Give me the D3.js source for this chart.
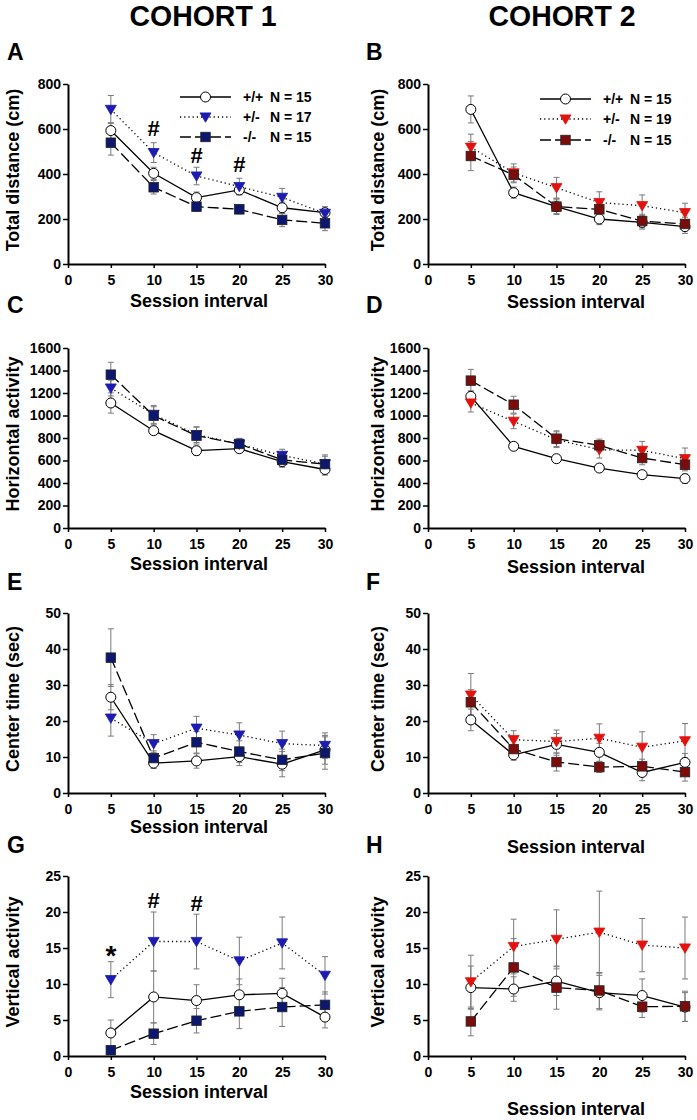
<!DOCTYPE html>
<html>
<head>
<meta charset="utf-8">
<script src="https://cdn.jsdelivr.net/npm/d3@7"></script>
<style>
  body { margin: 0; background: #fff; }
  text { font-family: "Liberation Sans", Arial, sans-serif; font-weight: bold; fill: #000; }
</style>
</head>
<body>
<div id="chart"></div>
<script>
// session bins (minutes) and x ticks
const sessions = [5, 10, 15, 20, 25, 30];
const xTicks = [0, 5, 10, 15, 20, 25, 30];

// legend
const genotypes = ["+/+", "+/-", "-/-"];
const nCohort1 = [15, 17, 15];
const nCohort2 = [15, 19, 15];

// Total distance (cm)
const distC1Wt = [593, 403, 295, 329, 250, 228];
const distC1WtErr = [35, 27, 25, 20, 25, 20];
const distC1Het = [687, 495, 391, 344, 296, 225];
const distC1HetErr = [62, 44, 39, 37, 40, 30];
const distC1Ko = [539, 341, 255, 243, 196, 181];
const distC1KoErr = [55, 30, 20, 20, 30, 33];
const distC2Wt = [687, 317, 255, 200, 185, 166];
const distC2WtErr = [60, 25, 35, 25, 30, 30];
const distC2Het = [519, 405, 339, 273, 259, 228];
const distC2HetErr = [58, 40, 46, 48, 48, 42];
const distC2Ko = [480, 396, 255, 243, 191, 178];
const distC2KoErr = [65, 35, 30, 30, 30, 30];

// Horizontal activity
const horzC1Wt = [1111, 865, 687, 705, 590, 520];
const horzC1WtErr = [90, 30, 40, 30, 50, 50];
const horzC1Het = [1244, 1010, 830, 745, 645, 570];
const horzC1HetErr = [70, 80, 70, 50, 55, 80];
const horzC1Ko = [1363, 998, 821, 747, 605, 568];
const horzC1KoErr = [110, 80, 75, 50, 55, 70];
const horzC2Wt = [1170, 726, 616, 533, 474, 439];
const horzC2WtErr = [50, 20, 20, 20, 25, 40];
const horzC2Het = [1111, 948, 785, 696, 690, 616];
const horzC2HetErr = [80, 65, 70, 74, 80, 95];
const horzC2Ko = [1310, 1096, 794, 735, 622, 563];
const horzC2KoErr = [100, 75, 70, 55, 60, 55];

// Center time (sec)
const centC1Wt = [26.6, 8.3, 8.9, 10.1, 8.0, 12.0];
const centC1WtErr = [3.5, 1.5, 2.0, 2.5, 3.5, 4.0];
const centC1Het = [20.8, 13.7, 18.0, 16.1, 13.7, 13.2];
const centC1HetErr = [5.0, 2.5, 3.3, 3.4, 3.5, 3.5];
const centC1Ko = [37.6, 9.7, 14.1, 11.5, 9.2, 11.1];
const centC1KoErr = [8.0, 2.0, 3.0, 3.0, 3.0, 4.5];
const centC2Wt = [20.3, 10.6, 13.5, 11.3, 5.7, 8.5];
const centC2WtErr = [3.0, 1.5, 3.0, 2.5, 2.3, 2.5];
const centC2Het = [27.2, 14.8, 14.3, 15.2, 12.7, 14.5];
const centC2HetErr = [6.0, 2.5, 3.2, 4.0, 4.3, 4.8];
const centC2Ko = [25.2, 12.2, 8.6, 7.2, 7.4, 5.8];
const centC2KoErr = [3.5, 2.5, 2.5, 1.5, 2.0, 2.5];

// Vertical activity
const vertC1Wt = [3.2, 8.2, 7.7, 8.5, 8.7, 5.4];
const vertC1WtErr = [1.8, 3.6, 2.2, 2.2, 2.1, 1.5];
const vertC1Het = [10.6, 15.9, 15.9, 13.2, 15.7, 11.2];
const vertC1HetErr = [2.5, 4.1, 3.8, 3.3, 3.6, 2.6];
const vertC1Ko = [0.8, 3.1, 4.9, 6.2, 6.8, 7.1];
const vertC1KoErr = [0.5, 1.5, 1.7, 2.4, 2.7, 1.8];
const vertC2Wt = [9.5, 9.3, 10.4, 8.8, 8.4, 6.8];
const vertC2WtErr = [3.0, 1.7, 2.0, 2.4, 2.3, 2.0];
const vertC2Het = [10.3, 15.2, 16.2, 17.2, 15.4, 15.0];
const vertC2HetErr = [3.7, 3.8, 4.1, 5.7, 3.7, 4.3];
const vertC2Ko = [4.8, 12.3, 9.5, 9.1, 6.85, 6.9];
const vertC2KoErr = [2.0, 4.0, 3.0, 2.5, 1.5, 2.1];

// significance marks: [session, y value, symbol]
const marksA = [[10, 603, "#"], [15, 484, "#"], [20, 444, "#"]];
const marksG = [[5, 15.0, "*"], [10, 21.6, "#"], [15, 21.3, "#"]];

const W = 697, H = 1120;
const svg = d3.select("#chart").append("svg")
    .attr("width", W).attr("height", H);

const colors = {
    c1: {het: "#1c1cb0", ko: "#0c1870"},
    c2: {het: "#e2120e", ko: "#7c0c0c"}
};

const cols = [
    {x0: 68, x1: 325, titleX: 13, labelX: 199},
    {x0: 428, x1: 685, titleX: 378, labelX: 576}
];
const rows = [
    {top: 84, bottom: 264},
    {top: 348, bottom: 528},
    {top: 613, bottom: 793},
    {top: 876, bottom: 1056}
];

const panels = [
    {letter: "A", col: 0, row: 0, max: 800, step: 200, ytitle: "Total distance (cm)", c: "c1",
     wt: distC1Wt, wtE: distC1WtErr, het: distC1Het, hetE: distC1HetErr, ko: distC1Ko, koE: distC1KoErr,
     legend: nCohort1, marks: marksA, xlab: 43},
    {letter: "B", col: 1, row: 0, max: 800, step: 200, ytitle: "Total distance (cm)", c: "c2",
     wt: distC2Wt, wtE: distC2WtErr, het: distC2Het, hetE: distC2HetErr, ko: distC2Ko, koE: distC2KoErr,
     legend: nCohort2, xlab: 44},
    {letter: "C", col: 0, row: 1, max: 1600, step: 200, ytitle: "Horizontal activity", c: "c1",
     wt: horzC1Wt, wtE: horzC1WtErr, het: horzC1Het, hetE: horzC1HetErr, ko: horzC1Ko, koE: horzC1KoErr, xlab: 42},
    {letter: "D", col: 1, row: 1, max: 1600, step: 200, ytitle: "Horizontal activity", c: "c2",
     wt: horzC2Wt, wtE: horzC2WtErr, het: horzC2Het, hetE: horzC2HetErr, ko: horzC2Ko, koE: horzC2KoErr, xlab: 45},
    {letter: "E", col: 0, row: 2, max: 50, step: 10, ytitle: "Center time (sec)", c: "c1",
     wt: centC1Wt, wtE: centC1WtErr, het: centC1Het, hetE: centC1HetErr, ko: centC1Ko, koE: centC1KoErr, xlab: 40},
    {letter: "F", col: 1, row: 2, max: 50, step: 10, ytitle: "Center time (sec)", c: "c2",
     wt: centC2Wt, wtE: centC2WtErr, het: centC2Het, hetE: centC2HetErr, ko: centC2Ko, koE: centC2KoErr, xlab: 60},
    {letter: "G", col: 0, row: 3, max: 25, step: 5, ytitle: "Vertical activity", c: "c1",
     wt: vertC1Wt, wtE: vertC1WtErr, het: vertC1Het, hetE: vertC1HetErr, ko: vertC1Ko, koE: vertC1KoErr,
     marks: marksG, xlab: 42},
    {letter: "H", col: 1, row: 3, max: 25, step: 5, ytitle: "Vertical activity", c: "c2",
     wt: vertC2Wt, wtE: vertC2WtErr, het: vertC2Het, hetE: vertC2HetErr, ko: vertC2Ko, koE: vertC2KoErr, xlab: 59}
];

// cohort titles
svg.append("text").attr("x", 203).attr("y", 26).attr("text-anchor", "middle")
    .style("font-family", "'Liberation Sans Narrow', 'Arial Narrow', 'Liberation Sans', sans-serif")
    .style("font-size", "29px").attr("textLength", 147).attr("lengthAdjust", "spacingAndGlyphs")
    .text("COHORT 1");
svg.append("text").attr("x", 562).attr("y", 26).attr("text-anchor", "middle")
    .style("font-family", "'Liberation Sans Narrow', 'Arial Narrow', 'Liberation Sans', sans-serif")
    .style("font-size", "29px").attr("textLength", 147).attr("lengthAdjust", "spacingAndGlyphs")
    .text("COHORT 2");

const lineStyles = {wt: null, het: "1.2,3", ko: "11,4"};

function drawMarker(g, kind, cx, cy, color, size) {
    if (kind === "wt") {
        g.append("circle").attr("cx", cx).attr("cy", cy).attr("r", size)
            .attr("fill", "#fff").attr("stroke", "#000").attr("stroke-width", 1);
    } else if (kind === "het") {
        const s = size * 1.1;
        g.append("path")
            .attr("d", `M${cx - s},${cy - s * 0.75}L${cx + s},${cy - s * 0.75}L${cx},${cy + s * 0.95}Z`)
            .attr("fill", color).attr("stroke", color).attr("stroke-width", 0.8);
    } else {
        const s = size * 0.95;
        g.append("rect").attr("x", cx - s).attr("y", cy - s).attr("width", 2 * s).attr("height", 2 * s)
            .attr("fill", color).attr("stroke", "#222").attr("stroke-width", 0.8);
    }
}

function drawPanel(p) {
    const col = cols[p.col], row = rows[p.row];
    const x = d3.scaleLinear().domain([0, 30]).range([col.x0, col.x1]);
    const y = d3.scaleLinear().domain([0, p.max]).range([row.bottom, row.top]);
    const g = svg.append("g");

    // panel letter
    const letterY = [60, 313, 590, 853][p.row];
    g.append("text").attr("x", p.col === 0 ? 7 : 366).attr("y", letterY)
        .style("font-size", "23px").text(p.letter);

    // axes
    const yAxis = g.append("g").attr("transform", `translate(${col.x0},0)`)
        .call(d3.axisLeft(y).tickValues(d3.range(0, p.max + 1, p.step)).tickFormat(d3.format("d"))
            .tickSize(5).tickSizeOuter(0).tickPadding(2));
    const xAxis = g.append("g").attr("transform", `translate(0,${row.bottom})`)
        .call(d3.axisBottom(x).tickValues(xTicks).tickSize(4).tickSizeOuter(0).tickPadding(7));
    [yAxis, xAxis].forEach(a => {
        a.select(".domain").attr("stroke", "#000").attr("stroke-width", 2);
        a.selectAll(".tick line").attr("stroke", "#000").attr("stroke-width", 1.5);
        a.selectAll("text").style("font-size", "14px").style("font-family", "'Liberation Sans', Arial, sans-serif")
            .style("font-weight", "bold").attr("fill", "#000");
    });

    // axis titles
    g.append("text")
        .attr("transform", `translate(${col.titleX},${(row.top + row.bottom) / 2 - 4}) rotate(-90)`)
        .attr("text-anchor", "middle").attr("dy", "0.36em")
        .style("font-size", "18px").text(p.ytitle);
    g.append("text").attr("x", col.labelX).attr("y", row.bottom + p.xlab)
        .attr("text-anchor", "middle").style("font-size", "18px").text("Session interval");

    const series = [
        {kind: "wt", vals: p.wt, err: p.wtE, color: "#000"},
        {kind: "het", vals: p.het, err: p.hetE, color: colors[p.c].het},
        {kind: "ko", vals: p.ko, err: p.koE, color: colors[p.c].ko}
    ];

    // error bars
    series.forEach(s => {
        s.vals.forEach((v, i) => {
            const cx = x(sessions[i]);
            const lo = y(v - s.err[i]), hi = y(v + s.err[i]);
            g.append("line").attr("x1", cx).attr("x2", cx).attr("y1", lo).attr("y2", hi)
                .attr("stroke", "#7a7a7a").attr("stroke-width", 1);
            [lo, hi].forEach(yy => g.append("line").attr("x1", cx - 3).attr("x2", cx + 3)
                .attr("y1", yy).attr("y2", yy).attr("stroke", "#7a7a7a").attr("stroke-width", 1));
        });
    });

    // lines
    const line = d3.line().x((d, i) => x(sessions[i])).y(d => y(d));
    series.forEach(s => {
        g.append("path").datum(s.vals).attr("d", line).attr("fill", "none")
            .attr("stroke", "#000").attr("stroke-width", 1.3)
            .attr("stroke-dasharray", lineStyles[s.kind]);
    });

    // markers (wt drawn first, then het, then ko)
    series.forEach(s => {
        s.vals.forEach((v, i) => drawMarker(g, s.kind, x(sessions[i]), y(v), s.color, 5));
    });

    // significance marks
    if (p.marks) {
        p.marks.forEach(m => {
            g.append("text").attr("x", x(m[0])).attr("y", y(m[1]))
                .attr("text-anchor", "middle")
                .attr("dy", m[2] === "*" ? "0.62em" : "0.36em")
                .style("font-size", m[2] === "*" ? "28px" : "22px").text(m[2]);
        });
    }

    // legend
    if (p.legend) {
        const lx = p.col === 0 ? 180 : 540;
        const ly = p.col === 0 ? [97, 117, 137] : [99, 119, 140];
        const lw = 51;
        const kinds = ["wt", "het", "ko"];
        kinds.forEach((k, i) => {
            g.append("line").attr("x1", lx).attr("x2", lx + lw).attr("y1", ly[i]).attr("y2", ly[i])
                .attr("stroke", "#000").attr("stroke-width", 1.3)
                .attr("stroke-dasharray", lineStyles[k]);
            drawMarker(g, k, lx + lw / 2, ly[i], series[i].color, 5);
            g.append("text").attr("x", lx + 63).attr("y", ly[i] + 5)
                .style("font-size", "14px").text(genotypes[i]);
            g.append("text").attr("x", lx + 90).attr("y", ly[i] + 5)
                .style("font-size", "14px").text("N = " + p.legend[i]);
        });
    }
}

panels.forEach(drawPanel);
</script>
</body>
</html>
